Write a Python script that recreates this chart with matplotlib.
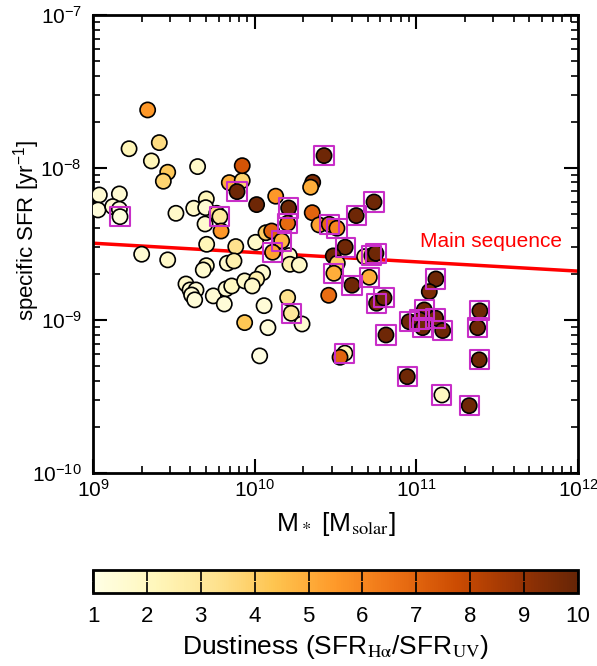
import matplotlib
matplotlib.use('Agg')
import matplotlib.pyplot as plt
import numpy as np

plt.rcParams['font.family'] = ['Liberation Sans', 'DejaVu Sans']
plt.rcParams['mathtext.fontset'] = 'stix'

# log10 stellar mass [Msolar]
log_mass = [9.039, 9.163, 9.031, 9.122, 9.163, 9.167, 9.223, 9.338, 9.410, 9.361,
            9.462, 9.435, 9.513, 9.647, 9.701, 9.623, 9.697, 9.693, 9.765, 9.785,
            9.792, 9.843, 9.923, 9.923, 9.891, 10.012, 9.301, 9.462, 9.703, 9.883,
            10.006, 9.701, 9.682, 9.831, 9.872, 10.049, 9.575, 9.600, 9.637, 9.610,
            9.629, 9.744, 9.823, 9.858, 9.812, 9.938, 10.012, 9.985, 10.058, 9.938,
            10.082, 10.031, 10.070, 10.105, 10.130, 10.210, 10.204, 10.167, 10.111, 10.214,
            10.218, 10.276, 10.204, 10.226, 10.293, 10.429, 10.359, 10.346, 10.356, 10.398,
            10.461, 10.509, 10.628, 10.738, 10.560, 10.486, 10.511, 10.490, 10.458, 10.602,
            10.680, 10.725, 10.750, 10.709, 10.754, 10.800, 10.812, 10.558, 10.528, 10.956,
            10.944, 11.121, 11.080, 11.049, 11.022, 11.039, 11.119, 11.163, 11.393, 11.379,
            11.389, 11.158, 11.327]
# log10 specific SFR [yr^-1]
log_ssfr = [-8.179, -8.172, -8.277, -8.255, -8.272, -8.321, -7.876, -7.622, -7.836, -7.956,
            -8.030, -8.089, -8.299, -7.993, -8.205, -8.266, -8.262, -8.369, -8.299, -8.321,
            -8.415, -8.098, -8.085, -7.987, -8.157, -8.242, -8.567, -8.604, -8.502, -8.517,
            -8.489, -8.642, -8.670, -8.626, -8.611, -8.688, -8.762, -8.801, -8.801, -8.834,
            -8.866, -8.840, -8.794, -8.775, -8.893, -8.742, -8.731, -8.775, -8.904, -9.015,
            -9.048, -9.233, -8.426, -8.415, -8.187, -8.264, -8.364, -8.480, -8.554, -8.576,
            -8.633, -8.637, -8.851, -8.954, -9.024, -7.921, -8.096, -8.128, -8.295, -8.375,
            -8.371, -8.397, -8.314, -8.225, -8.521, -8.578, -8.626, -8.692, -8.836, -8.770,
            -8.583, -8.576, -8.561, -8.718, -8.888, -8.853, -9.096, -9.215, -9.242, -9.009,
            -9.369, -8.729, -8.812, -8.932, -8.997, -9.048, -8.986, -9.067, -8.938, -9.048,
            -9.259, -9.489, -9.559]
# SFR(Halpha) / SFR(UV)
dustiness = [1.5, 1.5, 1.3, 1.5, 1.3, 1.2, 2.2, 5.5, 3.5, 2.2,
             4.2, 3.8, 1.8, 1.8, 2.2, 1.8, 1.5, 1.6, 3.5, 3.0,
             5.5, 5.0, 3.8, 7.5, 9.8, 9.8, 1.5, 1.8, 2.2, 3.3,
             1.8, 2.0, 1.6, 1.6, 2.5, 1.6, 1.8, 1.5, 1.5, 1.5,
             1.4, 1.5, 1.5, 2.0, 1.4, 1.8, 2.5, 1.8, 1.4, 4.3,
             1.3, 1.1, 4.0, 7.0, 5.5, 9.8, 6.8, 4.8, 5.3, 1.8,
             2.5, 1.8, 3.3, 3.0, 1.5, 9.8, 9.5, 5.0, 7.0, 5.2,
             6.8, 6.0, 9.8, 9.8, 9.8, 9.8, 4.0, 5.0, 6.7, 9.8,
             3.3, 9.8, 9.8, 5.0, 9.8, 9.8, 9.8, 2.2, 7.0, 9.8,
             9.8, 9.8, 9.5, 9.8, 9.8, 9.8, 9.8, 9.8, 9.8, 9.8,
             9.8, 2.0, 9.8]
# 1 = marked with a box
boxed = [0, 0, 0, 0, 0, 1, 0, 0, 0, 0,
         0, 0, 0, 0, 0, 0, 0, 0, 0, 1,
         0, 0, 0, 0, 1, 0, 0, 0, 0, 0,
         0, 0, 0, 0, 0, 0, 0, 0, 0, 0,
         0, 0, 0, 0, 0, 0, 0, 0, 0, 0,
         0, 0, 0, 0, 0, 1, 1, 1, 1, 0,
         0, 0, 0, 1, 0, 1, 0, 0, 0, 0,
         1, 1, 1, 1, 1, 0, 0, 1, 0, 1,
         0, 1, 1, 1, 1, 1, 1, 1, 0, 1,
         1, 1, 0, 1, 1, 1, 1, 1, 1, 1,
         1, 1, 1]

# main sequence line end points
ms_mass = [1e9, 1e12]
ms_ssfr = [3.2e-9, 2.1e-9]

mass = 10 ** np.array(log_mass)
ssfr = 10 ** np.array(log_ssfr)
box = np.array(boxed) == 1

fig = plt.figure(figsize=(5.97, 6.66), dpi=100)
ax = fig.add_axes([0.1558, 0.2898, 0.8124, 0.6877])

ax.plot(ms_mass, ms_ssfr, color='red', lw=2.5, zorder=2)
sc = ax.scatter(mass, ssfr, c=dustiness, cmap='YlOrBr', vmin=1, vmax=10, s=120,
                edgecolors='black', linewidths=1.2, zorder=3)
ax.scatter(mass[box], ssfr[box], marker='s', s=190, facecolors='none',
           edgecolors='#c82ec8', linewidths=1.5, zorder=4)
ax.text(1.05e11, 3.3e-9, 'Main sequence', color='red', fontsize=15, va='center', ha='left')

ax.set_xscale('log')
ax.set_yscale('log')
ax.set_xlim(1e9, 1e12)
ax.set_ylim(1e-10, 1e-7)
for s in ax.spines.values():
    s.set_linewidth(2)
ax.tick_params(which='both', direction='in', top=True, right=True, labelsize=15)
ax.tick_params(axis='x', which='both', pad=4)
ax.tick_params(axis='y', which='both', pad=8)
ax.tick_params(which='major', length=10, width=1.5)
ax.tick_params(which='minor', length=5, width=1.2)
ax.set_xlabel(r'M$_*$ [M$_{\mathrm{solar}}$]', fontsize=19, labelpad=7)
ax.set_ylabel(r'specific SFR [yr$^{\mathdefault{-1}}$]', fontsize=16)
ax.yaxis.set_label_coords(-0.105, 0.53)

cax = fig.add_axes([0.1558, 0.1096, 0.8124, 0.0345])
cb = fig.colorbar(sc, cax=cax, orientation='horizontal', ticks=range(1, 11))
cb.outline.set_linewidth(2)
cax.tick_params(direction='in', top=True, bottom=True, length=8, width=1.2, labelsize=16, pad=9)
cb.set_label(r'Dustiness (SFR$_{\mathrm{H\alpha}}$/SFR$_{\mathrm{UV}}$)', fontsize=19, labelpad=5)

plt.savefig('out.png', dpi=100)
plt.close()
